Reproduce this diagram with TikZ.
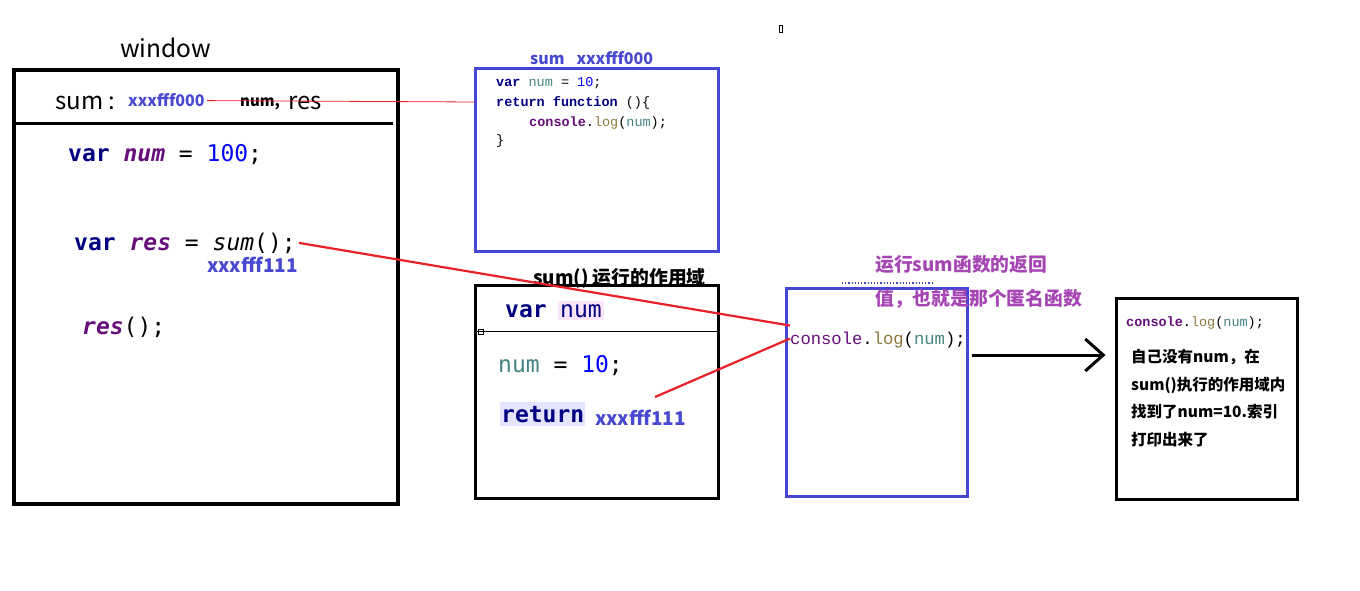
\documentclass[tikz,border=0pt]{standalone}
\usepackage{fontspec}
\setmainfont{Noto Sans CJK SC}
\newfontfamily\monoA{DejaVu Sans Mono}
\newfontfamily\monoB{Liberation Mono}
\usetikzlibrary{arrows.meta}

\definecolor{frameblue}{RGB}{70,70,212}
\definecolor{addrblue}{RGB}{72,72,208}
\definecolor{kwnavy}{RGB}{0,0,128}
\definecolor{varpurple}{RGB}{102,14,122}
\definecolor{numblue}{RGB}{0,0,255}
\definecolor{idteal}{RGB}{69,131,131}
\definecolor{logolive}{RGB}{140,120,60}
\definecolor{notepurple}{RGB}{166,70,180}
\definecolor{linkred}{RGB}{232,32,40}
\definecolor{varbg}{RGB}{252,228,252}
\definecolor{retbg}{RGB}{228,228,255}

\newcommand{\fsz}[1]{\fontsize{#1}{#1}\selectfont}

\tikzset{
  lbl/.style={inner sep=0pt, anchor=base west},
  blackframe/.style={draw=black, line width=3pt, inner sep=0pt},
  blueframe/.style={draw=frameblue, line width=3pt, inner sep=0pt},
  link/.style={draw=linkred, line width=2.2pt},
  thinlink/.style={draw=linkred, line width=0.8pt},
  addr/.style={lbl, text=addrblue, font=\fsz{16}\bfseries},
  bigaddr/.style={lbl, text=addrblue, font=\fsz{19}\bfseries},
  bigcode/.style={lbl, font=\monoA\fsz{23}},
  smallcode/.style={lbl, font=\monoB\fsz{13.5}},
  note/.style={lbl, text=notepurple, font=\fsz{18.8}\bfseries},
  remark/.style={lbl, text=black, font=\fsz{15.5}\bfseries},
}

\begin{document}
\begin{tikzpicture}[x=1pt, y=-1pt]
\useasboundingbox (0,0) rectangle (1360,591);

% ---------- window (global scope) ----------
\node[lbl, font=\fsz{24.5}] (wintitle) at (120,58) {window};
\node[blackframe, line width=4pt, minimum width=384pt, minimum height=434pt] (winbox) at (206,287) {};
\draw[line width=3pt] (14,124) -- (393,124);

\node[lbl, font=\fsz{24}] (sumlbl) at (55,110) {sum :};
\node[addr] (addr0) at (128,107) {xxxfff000};
\node[lbl, font=\fsz{15}\bfseries] (numlbl) at (240,107) {num,};
\node[lbl, font=\fsz{24}] (reslbl) at (288,110) {res};

\node[bigcode] (line1) at (68,161)
  {\textcolor{kwnavy}{\bfseries var} \textcolor{varpurple}{\bfseries\itshape num} = \textcolor{numblue}{100};};
\node[bigcode] (rescall) at (74,250)
  {\textcolor{kwnavy}{\bfseries var} \textcolor{varpurple}{\bfseries\itshape res} = \textit{sum}();};
\node[bigaddr] (addr1) at (207,272) {xxxfff111};
\node[bigcode] (resrun) at (82,334)
  {\textcolor{varpurple}{\bfseries\itshape res}();};

% ---------- function object sum ----------
\node[addr] (sumhead) at (530,65) {sum\hspace{12pt}xxxfff000};
\node[blueframe, minimum width=243pt, minimum height=182pt] (funcbox) at (596.5,160) {};
\node[smallcode] (fl1) at (496,87)
  {\textcolor{kwnavy}{\bfseries var} \textcolor{idteal}{num} = \textcolor{numblue}{10};};
\node[smallcode] (fl2) at (496,107)
  {\textcolor{kwnavy}{\bfseries return function} ()\{};
\node[smallcode] (fl3) at (529,127)
  {\textcolor{varpurple}{\bfseries console}.\textcolor{logolive}{log}(\textcolor{idteal}{num});};
\node[smallcode] (fl4) at (496,145) {\}};
\coordinate (funcin) at (475,102);
\draw[thinlink] (addr0.east) ++(2pt,0) coordinate (addrout) (addrout) -- (funcin);

% ---------- scope of sum() ----------
\node[lbl, font=\fsz{18.8}\bfseries] (scopetitle) at (533,284) {sum() 运行的作用域};
\node[blackframe, minimum width=243pt, minimum height=213pt] (scopebox) at (596.5,391.5) {};
\draw[line width=1pt] (476,331) -- (718,331);
\draw[line width=0.8pt] (478,329) rectangle (483,334);

\node[bigcode] (svar) at (505,317) {\textcolor{kwnavy}{\bfseries var}};
\node[bigcode, fill=varbg, inner ysep=3pt, inner xsep=2pt] (snum) at (558,317) {\textcolor{kwnavy}{num}};
\node[bigcode] (sassign) at (498,372)
  {\textcolor{idteal}{num} = \textcolor{numblue}{10};};
\node[bigcode, fill=retbg, inner ysep=4pt, inner xsep=1pt] (sret) at (500,422)
  {\textcolor{kwnavy}{\bfseries return}};
\node[bigaddr] (addr2) at (595,425) {xxxfff111};

% ---------- returned anonymous function ----------
\node[blueframe, minimum width=181pt, minimum height=208pt] (anonbox) at (876.5,392) {};
\draw[frameblue, line width=1.2pt, dotted] (842,283) -- (932,283);
\node[lbl, font=\monoB\fsz{17.2}] (conslog) at (790,344)
  {\textcolor{varpurple}{console}.\textcolor{logolive}{log}(\textcolor{idteal}{num});};
\node[note] (note1) at (875,271) {运行sum函数的返回};
\node[note] (note2) at (875,305) {值，也就是那个匿名函数};

% ---------- result ----------
\node[blackframe, minimum width=181pt, minimum height=201pt] (resultbox) at (1206.5,398.5) {};
\node[lbl, font=\monoB\fsz{13.5}] (rlog) at (1126,326)
  {\textcolor{varpurple}{\bfseries console}.\textcolor{logolive}{log}(\textcolor{idteal}{num});};
\node[remark] (r1) at (1131,362) {自己没有num，在};
\node[remark] (r2) at (1131,390) {sum()执行的作用域内};
\node[remark] (r3) at (1131,417) {找到了num=10.索引};
\node[remark] (r4) at (1131,445) {打印出来了};

% tiny mark near the top
\draw[line width=0.8pt] (779,25) rectangle (782,32);

% ---------- connectors ----------
\draw[link] ([xshift=3pt]rescall.east) -- ([yshift=14pt]conslog.west);
\coordinate (retout) at (655,397);
\draw[link] (retout) -- ([yshift=1pt]conslog.west);
\draw[line width=3pt, -{Straight Barb[length=18pt, width=32pt, line width=3pt]}]
  ([xshift=3pt, yshift=37pt]anonbox.east) -- ([xshift=-9pt, yshift=43.5pt]resultbox.west);
\end{tikzpicture}
\end{document}
